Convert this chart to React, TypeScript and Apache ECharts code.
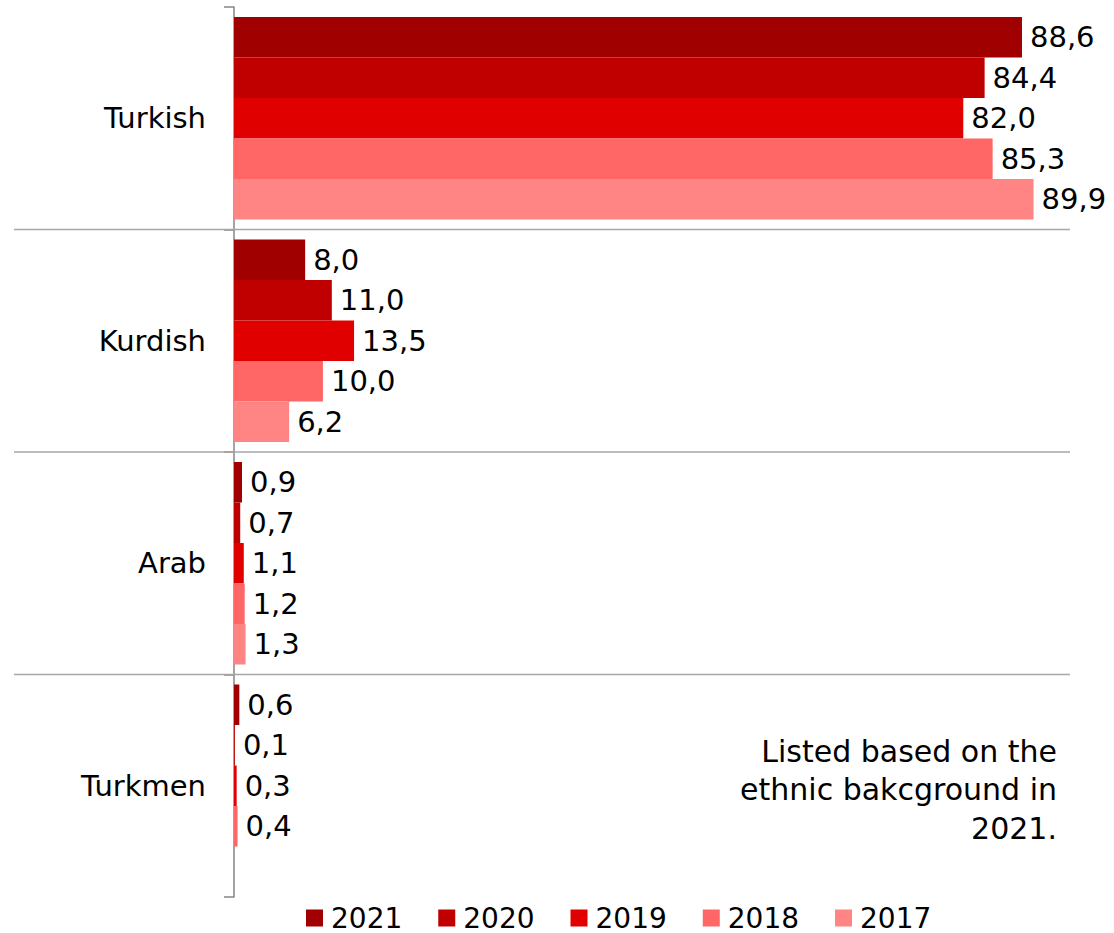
import React, { useEffect, useRef } from "react";
import * as echarts from "echarts";

const categories = ["Turkish", "Kurdish", "Arab", "Turkmen"];
const years = ["2021", "2020", "2019", "2018", "2017"];
const v2021 = [88.6, 8.0, 0.9, 0.6];
const v2020 = [84.4, 11.0, 0.7, 0.1];
const v2019 = [82.0, 13.5, 1.1, 0.3];
const v2018 = [85.3, 10.0, 1.2, 0.4];
const v2017 = [89.9, 6.2, 1.3, null];
const colors = ["#A00000", "#C00000", "#E00000", "#FF6666", "#FF8585"];
const separators = [1, 2, 3];
const note = "Listed based on the\nethnic bakcground in\n2021.";

const FONT = "DejaVu Sans, Verdana, sans-serif";

export default function App() {
  const ref = useRef<HTMLDivElement>(null);
  useEffect(() => {
    document.body.style.margin = "0";
    const chart = echarts.init(ref.current!, null, { renderer: "svg" });
    const values = [v2021, v2020, v2019, v2018, v2017];
    const barSeries = years.map((y, i) => ({
      name: y,
      type: "bar",
      data: values[i],
      barGap: "0%",
      barCategoryGap: "9%",
      itemStyle: { color: colors[i] },
      label: {
        show: true,
        position: "right",
        distance: 8,
        fontSize: 29,
        fontFamily: FONT,
        color: "#000",
        formatter: (p: any) => (p.value == null ? "" : Number(p.value).toFixed(1).replace(".", ",")),
      },
    }));
    const sepSeries = {
      type: "custom",
      name: "sep",
      silent: true,
      clip: false,
      data: separators.map((s) => [0, s]),
      encode: { x: 0, y: 1 },
      renderItem: (params: any, api: any) => {
        const idx = api.value(1);
        const a = api.coord([0, idx - 1]);
        const b = api.coord([0, idx]);
        const y = (a[1] + b[1]) / 2;
        const cs = params.coordSys;
        return {
          type: "line",
          shape: { x1: cs.x - 220, y1: y, x2: cs.x + cs.width, y2: y },
          style: { stroke: "#A6A6A6", lineWidth: 1.5 },
        };
      },
    };
    chart.setOption({
      animation: false,
      backgroundColor: "#fff",
      textStyle: { fontFamily: FONT },
      grid: { left: 234, right: 44, top: 7, bottom: 36, containLabel: false },
      legend: {
        data: years,
        bottom: -4,
        left: 301,
        icon: "rect",
        itemWidth: 17,
        itemHeight: 17,
        itemGap: 36,
        textStyle: { fontSize: 28, fontFamily: FONT, color: "#000", padding: [0, 0, 0, 3] },
      },
      xAxis: {
        type: "value",
        min: 0,
        max: 94,
        show: false,
        splitLine: { show: false },
      },
      yAxis: {
        type: "category",
        data: categories,
        inverse: true,
        axisLine: { show: true, lineStyle: { color: "#868686", width: 1.5 } },
        axisTick: { show: true, length: 10, lineStyle: { color: "#868686", width: 1.5 } },
        axisLabel: { fontSize: 29, fontFamily: FONT, color: "#000", margin: 28 },
        splitLine: { show: false },
      },
      graphic: [
        {
          type: "text",
          x: 1057,
          y: 732,
          style: {
            text: note,
            fontSize: 30,
            fontFamily: FONT,
            fill: "#000",
            align: "right",
            verticalAlign: "top",
            lineHeight: 38.5,
          },
        },
      ],
      series: [...barSeries, sepSeries],
    });
    return () => chart.dispose();
  }, []);
  return <div ref={ref} style={{ width: 1114, height: 933 }} />;
}
